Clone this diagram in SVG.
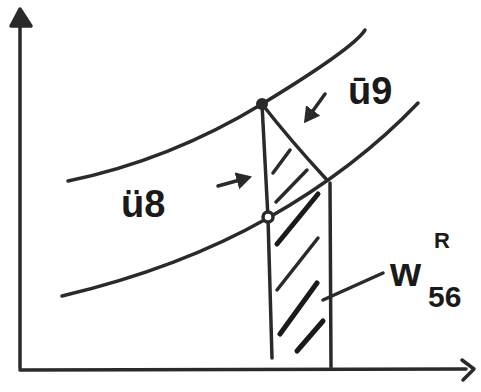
<svg xmlns="http://www.w3.org/2000/svg" width="481" height="392" viewBox="0 0 481 392">
<style>
.s{fill:none;stroke:#2a2a2a;stroke-width:3.5;stroke-linecap:round;stroke-linejoin:round}
.t{stroke:#1a1a1a;stroke-width:5}
.f{fill:#2a2a2a}
.lbl{font-family:"Liberation Sans",Arial,sans-serif;font-weight:bold;fill:#1a1a1a}
</style>
<defs>
<marker id="ah" markerWidth="6" markerHeight="6" refX="3" refY="2.5" orient="auto" markerUnits="strokeWidth">
<path d="M0,0 L4.5,2.5 L0,5 Z" fill="#2a2a2a"/>
</marker>
</defs>
<rect width="481" height="392" fill="#fff"/>
<g id="axes">
<path class="s" d="M20,368 L20,24"/>
<path class="s f" d="M11,26 L20,9 L31,26 Z"/>
<path class="s" d="M20,370 L466,369"/>
<path class="s" d="M462,360 L474,369 L463,380"/>
</g>
<g id="curves">
<path class="s" d="M68,181 Q170,160 262,104 T365,30"/>
<path class="s" d="M62,296 Q180,268 268,218 T418,103"/>
</g>
<g id="connectors">
<path class="s" d="M262,104 L268,218 L272,358"/>
<path class="s" d="M330,183 L331,367"/>
<path class="s" d="M262,104 Q290,140 327,180"/>
<path class="s" d="M325,94 L307,119" marker-end="url(#ah)"/>
<path class="s" d="M218,186 L247,178" marker-end="url(#ah)"/>
<path class="s" d="M383,273 L323,300"/>
</g>
<g id="hatch">
<path class="s" d="M273,173 L290,150"/>
<path class="s" d="M276,202 L307,170"/>
<path class="s t" d="M277,244 L318,194"/>
<path class="s" d="M277,290 L318,238"/>
<path class="s t" d="M280,334 L317,283"/>
<path class="s t" d="M297,351 L323,321"/>
</g>
<g id="node-top">
<circle cx="262" cy="104" r="6" fill="#2a2a2a"/>
</g>
<g id="node-bottom">
<circle cx="268" cy="217" r="5" fill="#fff" stroke="#2a2a2a" stroke-width="3.5"/>
</g>
<g id="label-u8">
<text class="lbl" x="121" y="217" font-size="38">ü8</text>
</g>
<g id="label-u9">
<text class="lbl" x="348" y="104" font-size="38">ū9</text>
</g>
<g id="label-w">
<text class="lbl" x="390" y="286" font-size="40">w</text>
<text class="lbl" x="434" y="248" font-size="22">R</text>
<text class="lbl" x="428" y="307" font-size="30">56</text>
</g>
</svg>
